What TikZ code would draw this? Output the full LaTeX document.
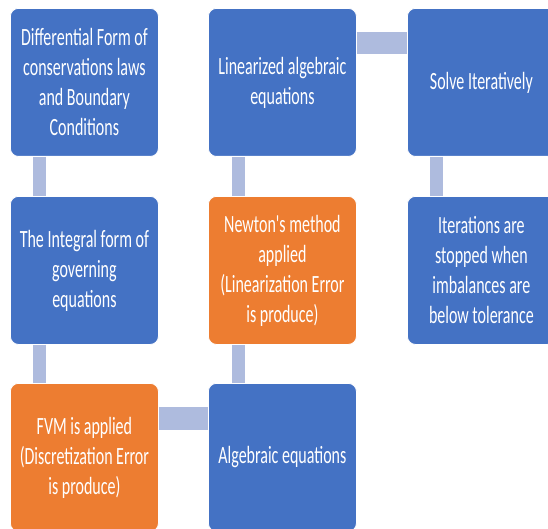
\documentclass[tikz,border=0pt]{standalone}
\usepackage{fontspec}
\newfontfamily\boxfont[FakeStretch=0.645]{Carlito}
\definecolor{boxblue}{HTML}{4472C4}
\definecolor{boxorange}{HTML}{ED7D31}
\definecolor{connfill}{HTML}{AEBBDE}
\begin{document}
\begin{tikzpicture}[x=1pt,y=-1pt,
  card/.style={rectangle, anchor=north west, minimum width=148pt, minimum height=148pt,
    rounded corners=8pt, draw=white, line width=0.8pt, text=white, align=center,
    inner sep=2pt, font=\boxfont\fontsize{24.8}{30}\selectfont},
  bluecard/.style={card, fill=boxblue},
  orangecard/.style={card, fill=boxorange},
  vconn/.style={draw=connfill, line width=13.5pt, line cap=butt},
  hconn/.style={draw=connfill, line width=22.5pt, line cap=butt}]
\useasboundingbox (0,0) rectangle (548,529);
\clip (0,0) rectangle (548,529);
\fill[white] (0,0) rectangle (548,529);

\node[bluecard]   (A) at (10,8)   {Differential Form of\\conservations laws\\and Boundary\\Conditions};
\node[bluecard]   (B) at (10,196) {The Integral form of\\governing\\equations};
\node[orangecard] (C) at (10,383) {FVM is applied\\(Discretization Error\\is produce)};
\node[bluecard]   (D) at (208,383) {Algebraic equations};
\node[orangecard] (E) at (208,196) {Newton's method\\applied\\(Linearization Error\\is produce)};
\node[bluecard]   (F) at (208,8)  {Linearized algebraic\\equations};
\node[bluecard]   (G) at (407,8)  {Solve Iteratively};
\node[bluecard]   (H) at (407,196) {Iterations are\\stopped when\\imbalances are\\below tolerance};

\draw[vconn] ([xshift=29.5pt]A.south west) -- ([xshift=29.5pt]B.north west);
\draw[vconn] ([xshift=29.5pt]B.south west) -- ([xshift=29.5pt]C.north west);
\draw[hconn] ([yshift=-35.5pt]C.north east) -- ([yshift=-35.5pt]D.north west);
\draw[vconn] ([xshift=30.5pt]D.north west) -- ([xshift=30.5pt]E.south west);
\draw[vconn] ([xshift=30.5pt]E.north west) -- ([xshift=30.5pt]F.south west);
\draw[hconn] ([yshift=-35pt]F.north east) -- ([yshift=-35pt]G.north west);
\draw[vconn] ([xshift=29.5pt]G.south west) -- ([xshift=29.5pt]H.north west);
\end{tikzpicture}
\end{document}
